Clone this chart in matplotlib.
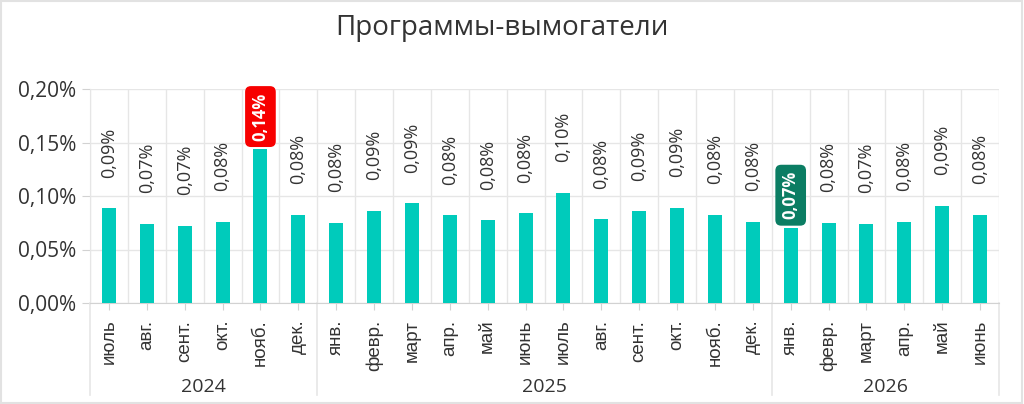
import matplotlib
matplotlib.use("Agg")
import matplotlib.pyplot as plt
from matplotlib.patches import Rectangle
from matplotlib.ticker import FixedLocator, FuncFormatter
import matplotlib.transforms as mtransforms

# --- data (share of incidents, %) ---
months = ["июль", "авг.", "сент.", "окт.", "нояб.", "дек.",
          "янв.", "февр.", "март", "апр.", "май", "июнь",
          "июль", "авг.", "сент.", "окт.", "нояб.", "дек.",
          "янв.", "февр.", "март", "апр.", "май", "июнь"]
years = ["2024", "2025", "2026"]
year_sizes = [6, 12, 6]
values = [0.0885, 0.0738, 0.0720, 0.0757, 0.1439, 0.0822,
          0.0752, 0.0860, 0.0932, 0.0820, 0.0773, 0.0838,
          0.1028, 0.0782, 0.0857, 0.0890, 0.0825, 0.0757,
          0.0704, 0.0752, 0.0738, 0.0760, 0.0907, 0.0825]
# index -> box colour for the highlighted max / min
highlight = {4: "#f70000", 18: "#0b7d63"}

BAR = "#00cbbb"
TEXT = "#333333"
GRID = "#e6e6e6"
AXIS = "#d2d2d2"


def pct(v, _pos=None):
    return f"{v:.2f}%".replace(".", ",")


fig = plt.figure(figsize=(10.24, 4.04), dpi=100)
ax = fig.add_axes([90 / 1024, 101 / 404, 909 / 1024, 214 / 404])

x = list(range(len(values)))
ax.bar(x, values, width=0.37, color=BAR, zorder=3)

ax.set_xlim(-0.5, len(values) - 0.5)
ax.set_ylim(0, 0.20)
ax.yaxis.set_major_locator(FixedLocator([0, 0.05, 0.10, 0.15, 0.20]))
ax.yaxis.set_major_formatter(FuncFormatter(pct))
ax.set_xticks(x)
ax.set_xticklabels(months, rotation=90, fontsize=13.5, color=TEXT,
                   family=["Liberation Sans", "DejaVu Sans"])
ax.set_xticks([i - 0.5 for i in range(len(values) + 1)], minor=True)

ax.grid(axis="y", which="major", color=GRID, lw=1, zorder=0)
ax.grid(axis="x", which="minor", color=GRID, lw=1, zorder=0)
ax.tick_params(axis="x", which="major", length=5, color=AXIS, pad=7)
ax.tick_params(axis="x", which="minor", length=0)
ax.tick_params(axis="y", length=6, color=AXIS, pad=4, labelsize=15,
               labelcolor=TEXT)
for lab in ax.get_yticklabels():
    lab.set_family(["Open Sans", "DejaVu Sans"])

for s in ("top", "right"):
    ax.spines[s].set_visible(False)
ax.spines["left"].set_color(GRID)
ax.spines["bottom"].set_color(AXIS)

# value labels
for i, v in enumerate(values):
    if i in highlight:
        ax.annotate(pct(v), (i, v), xytext=(0, 6), textcoords="offset points",
                    rotation=90, ha="center", va="bottom", fontsize=12,
                    fontweight="bold", color="white",
                    family=["Open Sans", "DejaVu Sans"], zorder=5,
                    bbox=dict(boxstyle="round,pad=0.38,rounding_size=0.35",
                              fc=highlight[i], ec="none"))
    else:
        ax.annotate(pct(v), (i, v), xytext=(0, 22), textcoords="offset points",
                    rotation=90, ha="center", va="bottom", fontsize=13,
                    color=TEXT, family=["Open Sans", "DejaVu Sans"])

# year groups below the month labels
trans = mtransforms.blended_transform_factory(ax.transData, ax.transAxes)
start = 0
edges = [-0.5]
for yr, n in zip(years, year_sizes):
    ax.text(start - 0.5 + n / 2, -0.393, yr, transform=trans, ha="center",
            va="center", fontsize=14, color=TEXT,
            family=["Open Sans", "DejaVu Sans"])
    start += n
    edges.append(start - 0.5)
for e in edges:
    ax.plot([e, e], [0, -0.43], transform=trans, color=GRID, lw=1.2,
            clip_on=False)

fig.text(0.49, 0.93, "Программы-вымогатели", ha="center", va="center",
         fontsize=20, color=TEXT, family=["Open Sans", "DejaVu Sans"])

fig.patches.append(Rectangle((0.001, 0.002), 0.997, 0.995,
                             transform=fig.transFigure, fill=False,
                             ec="#e2e2e2", lw=1.5))

fig.savefig("out.png", dpi=100, facecolor="white")
